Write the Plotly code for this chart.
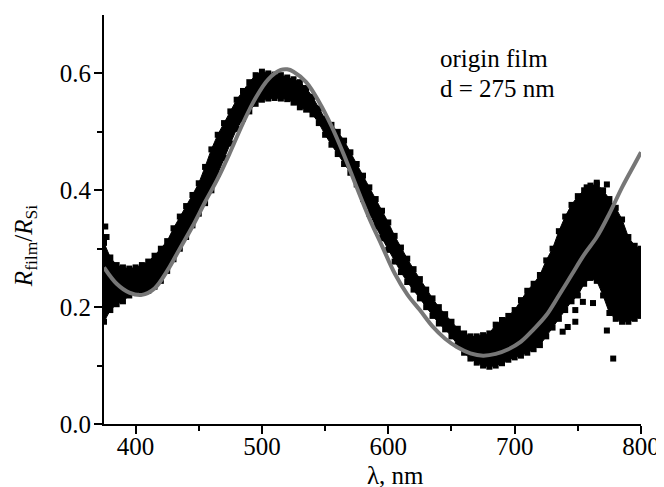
import plotly.graph_objects as go

wavelength = [375, 380, 385, 390, 395, 400, 405, 410, 415, 420, 425, 430, 435, 440, 445,
              450, 455, 460, 465, 470, 475, 480, 485, 490, 495, 500, 505, 510, 515, 520,
              525, 530, 535, 540, 545, 550, 555, 560, 565, 570, 575, 580, 585, 590, 595,
              600, 605, 610, 615, 620, 625, 630, 635, 640, 645, 650, 655, 660, 665, 670,
              675, 680, 685, 690, 695, 700, 705, 710, 715, 720, 725, 730, 735, 740, 745,
              750, 755, 760, 765, 770, 775, 780, 785, 790, 795, 800]

r_upper = [0.310, 0.285, 0.272, 0.268, 0.266, 0.268, 0.272, 0.278, 0.288, 0.300, 0.313, 0.335,
           0.355, 0.373, 0.392, 0.412, 0.440, 0.470, 0.495, 0.515, 0.535, 0.555, 0.570, 0.585,
           0.597, 0.603, 0.600, 0.598, 0.597, 0.593, 0.590, 0.585, 0.575, 0.560, 0.540, 0.522,
           0.512, 0.500, 0.485, 0.465, 0.445, 0.425, 0.405, 0.385, 0.365, 0.345, 0.322, 0.302,
           0.283, 0.265, 0.248, 0.230, 0.215, 0.200, 0.188, 0.175, 0.163, 0.155, 0.150, 0.150,
           0.152, 0.155, 0.170, 0.178, 0.185, 0.195, 0.212, 0.228, 0.240, 0.255, 0.280, 0.300,
           0.330, 0.355, 0.375, 0.390, 0.400, 0.408, 0.410, 0.400, 0.385, 0.370, 0.350, 0.320,
           0.305, 0.300]

r_lower = [0.175, 0.195, 0.205, 0.210, 0.220, 0.225, 0.226, 0.228, 0.235, 0.245, 0.262, 0.282,
           0.300, 0.320, 0.340, 0.360, 0.378, 0.400, 0.428, 0.455, 0.480, 0.505, 0.522, 0.535,
           0.548, 0.555, 0.557, 0.558, 0.557, 0.556, 0.550, 0.542, 0.538, 0.530, 0.515, 0.495,
           0.478, 0.462, 0.445, 0.430, 0.410, 0.385, 0.360, 0.338, 0.318, 0.298, 0.278, 0.260,
           0.243, 0.230, 0.215, 0.200, 0.185, 0.172, 0.162, 0.150, 0.135, 0.122, 0.112, 0.105,
           0.100, 0.098, 0.100, 0.104, 0.110, 0.114, 0.117, 0.122, 0.128, 0.135, 0.150, 0.165,
           0.180, 0.195, 0.210, 0.220, 0.240, 0.250, 0.245, 0.220, 0.190, 0.180, 0.175, 0.175,
           0.180, 0.185]

# scattered single points outside the dense band
stray_wl = [376, 377, 738, 742, 748, 748, 754, 762, 773, 778, 757, 765, 773, 782, 795]
stray_r = [0.338, 0.320, 0.158, 0.166, 0.175, 0.195, 0.209, 0.207, 0.160, 0.112, 0.405, 0.413,
           0.410, 0.190, 0.185]

# --- Fitted curve, d = 275 nm ---
fit_wl = [375, 385, 395, 405, 415, 425, 435, 445, 455, 465, 475, 485, 495, 505, 515, 520,
          525, 535, 545, 555, 565, 575, 585, 595, 605, 615, 625, 635, 645, 655, 665, 675,
          685, 695, 705, 715, 725, 735, 745, 755, 765, 775, 785, 795, 800]
fit_r = [0.268, 0.240, 0.225, 0.221, 0.232, 0.262, 0.300, 0.338, 0.380, 0.420, 0.466, 0.515,
         0.558, 0.590, 0.606, 0.607, 0.603, 0.585, 0.552, 0.510, 0.460, 0.405, 0.352, 0.305,
         0.258, 0.222, 0.195, 0.167, 0.146, 0.131, 0.121, 0.117, 0.120, 0.128, 0.141, 0.162,
         0.186, 0.220, 0.255, 0.290, 0.320, 0.360, 0.405, 0.445, 0.465]

FONT = "Liberation Serif"
FS = 25
txt = dict(family=FONT, size=FS, color="black")
sq = dict(symbol="square", size=6, color="black")

fig = go.Figure()
fig.add_trace(go.Scatter(x=wavelength, y=r_upper, mode="lines+markers", marker=sq,
                         line=dict(color="black", width=1), showlegend=False))
fig.add_trace(go.Scatter(x=wavelength, y=r_lower, mode="lines+markers", marker=sq,
                         line=dict(color="black", width=1), fill="tonexty",
                         fillcolor="black", showlegend=False))
fig.add_trace(go.Scatter(x=stray_wl, y=stray_r, mode="markers", marker=sq, showlegend=False))
fig.add_trace(go.Scatter(x=fit_wl, y=fit_r, mode="lines", line=dict(color="#777777", width=4,
                         shape="spline"), showlegend=False))

# legend-like note
fig.add_annotation(x=639, y=0.626, xref="x", yref="y", text="origin film", showarrow=False,
                   xanchor="left", yanchor="middle", font=txt)
fig.add_annotation(x=639, y=0.574, xref="x", yref="y", text="d = 275 nm", showarrow=False,
                   xanchor="left", yanchor="middle", font=txt)

# axis titles as annotations (placed like the original)
fig.add_annotation(x=0.542, y=-0.127, xref="paper", yref="paper", text="λ, nm",
                   showarrow=False, xanchor="center", yanchor="middle", font=txt)
fig.add_annotation(x=-0.147, y=0.435, xref="paper", yref="paper", textangle=-90,
                   text="<i>R</i><sub>film</sub>/<i>R</i><sub>Si</sub>",
                   showarrow=False, xanchor="center", yanchor="middle", font=txt)

axis_common = dict(showline=True, linecolor="black", linewidth=2, ticks="outside",
                   ticklen=8, tickwidth=1.5, tickcolor="black", showgrid=False, zeroline=False,
                   tickfont=txt, mirror=False, automargin=False)

fig.update_xaxes(range=[375, 800], tickvals=[400, 500, 600, 700, 800],
                 minor=dict(tickvals=[450, 550, 650, 750], ticks="outside", ticklen=5,
                            tickwidth=1.5, tickcolor="black"),
                 ticklabelstandoff=-9, **axis_common)
fig.update_yaxes(range=[0, 0.7], tickvals=[0.0, 0.2, 0.4, 0.6], tickformat=".1f",
                 minor=dict(tickvals=[0.1, 0.3, 0.5], ticks="outside", ticklen=5,
                            tickwidth=1.5, tickcolor="black"),
                 ticklabelstandoff=-2, **axis_common)

# page body adds an 8px offset, so the figure is sized 8px smaller
fig.update_layout(width=656, height=479, margin=dict(l=96, r=23, t=7, b=63),
                  plot_bgcolor="white", paper_bgcolor="white",
                  font=dict(family=FONT, color="black"))

fig.write_html("out.html")
